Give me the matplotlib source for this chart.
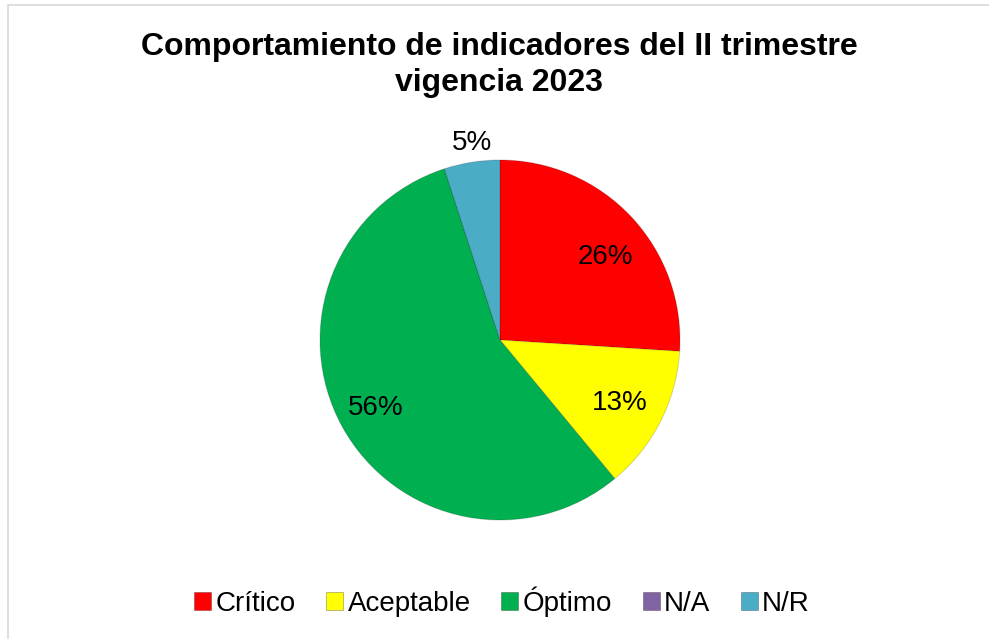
import matplotlib.pyplot as plt
from matplotlib.patches import Rectangle, Patch

categorias = ['Crítico', 'Aceptable', 'Óptimo', 'N/A', 'N/R']
porcentajes = [26, 13, 56, 0, 5]
colores = ['#FF0000', '#FFFF00', '#00B050', '#8064A2', '#4BACC6']

# posiciones de las etiquetas (coordenadas del pastel, radio 1)
pos_etiquetas = [(0.583, 0.461), (0.667, -0.35), (-0.689, -0.378), None, (-0.156, 1.094)]

W, H = 989, 639
fig = plt.figure(figsize=(W / 100, H / 100), dpi=100)

# borde gris del area del grafico
fig.patches.append(Rectangle((7.5 / W, -0.05), 1.1, 1 - 4.5 / H + 0.05,
                             transform=fig.transFigure, fill=False,
                             edgecolor='#D9D9D9', linewidth=1.2))

fuente = 'Liberation Sans'
fig.text(499 / W, 1 - 55 / H, 'Comportamiento de indicadores del II trimestre',
         ha='center', va='baseline', fontsize=23, fontweight='bold', family=fuente)
fig.text(499 / W, 1 - 91 / H, 'vigencia 2023',
         ha='center', va='baseline', fontsize=23, fontweight='bold', family=fuente)

ax = fig.add_axes([320 / W, (H - 520) / H, 360 / W, 360 / H])


def fmt(p):
    return '%d%%' % round(p) if p > 0.5 else ''


wedges, textos, autotextos = ax.pie(porcentajes, colors=colores, startangle=90,
                                    counterclock=False, autopct=fmt,
                                    wedgeprops=dict(edgecolor=(0, 0, 0, 0.15), linewidth=0.8),
                                    textprops=dict(fontsize=20, family=fuente))
ax.set_xlim(-1, 1)
ax.set_ylim(-1, 1)
ax.set_aspect('equal')

for t, p in zip(autotextos, pos_etiquetas):
    if p is not None:
        t.set_position(p)
        t.set_ha('center')
        t.set_va('center')

handles = [Patch(facecolor=c, edgecolor=(0, 0, 0, 0.3), linewidth=0.6) for c in colores]
fig.legend(handles, categorias, loc='center', bbox_to_anchor=(502 / W, 1 - 602 / H),
           ncol=5, frameon=False, handlelength=0.62, handleheight=0.62,
           handletextpad=0.15, columnspacing=1.1, borderpad=0, borderaxespad=0,
           prop=dict(family=fuente, size=20))

fig.savefig('out.png', dpi=100)
